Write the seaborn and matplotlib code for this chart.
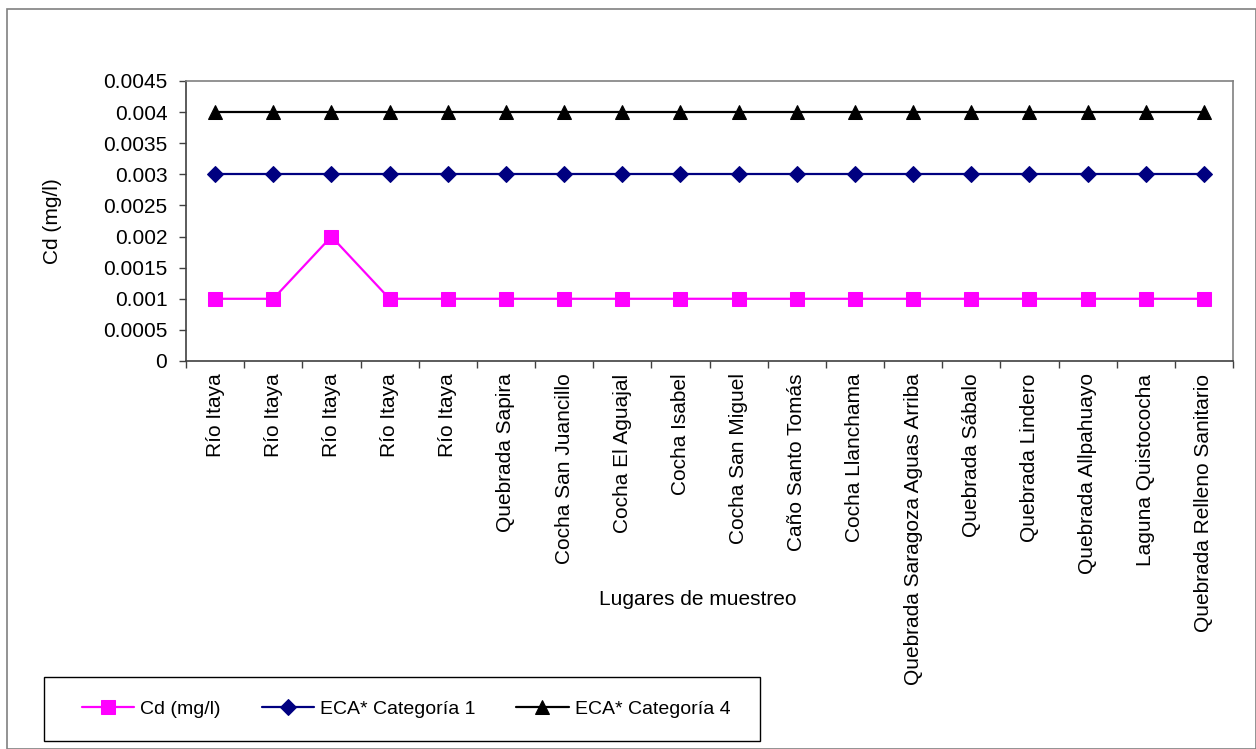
import matplotlib
matplotlib.use("Agg")
import matplotlib.pyplot as plt
import seaborn as sns
import numpy as np
from matplotlib.patches import Rectangle
from matplotlib.ticker import FixedLocator, NullFormatter

sitios = ["Río Itaya", "Río Itaya", "Río Itaya", "Río Itaya", "Río Itaya",
          "Quebrada Sapira", "Cocha San Juancillo", "Cocha El Aguajal",
          "Cocha Isabel", "Cocha San Miguel", "Caño Santo Tomás",
          "Cocha Llanchama", "Quebrada Saragoza Aguas Arriba",
          "Quebrada Sábalo", "Quebrada Lindero", "Quebrada Allpahuayo",
          "Laguna Quistococha", "Quebrada Relleno Sanitario"]
cd_mgl = [0.001, 0.001, 0.002, 0.001, 0.001, 0.001, 0.001, 0.001, 0.001,
          0.001, 0.001, 0.001, 0.001, 0.001, 0.001, 0.001, 0.001, 0.001]
eca_cat1 = [0.003] * 18
eca_cat4 = [0.004] * 18
y_ticks = [0, 0.0005, 0.001, 0.0015, 0.002, 0.0025, 0.003, 0.0035, 0.004, 0.0045]
y_labels = ["0", "0.0005", "0.001", "0.0015", "0.002", "0.0025",
            "0.003", "0.0035", "0.004", "0.0045"]

sns.set_theme(style="white")
plt.rcParams["font.family"] = ["Liberation Sans", "DejaVu Sans"]
plt.rcParams["text.color"] = "black"
plt.rcParams["axes.labelcolor"] = "black"
plt.rcParams["xtick.color"] = "black"
plt.rcParams["ytick.color"] = "black"
FS = 15

fig = plt.figure(figsize=(12.56, 7.49), dpi=100)
ax = fig.add_axes([186/1256, 1-361/749, (1233-186)/1256, (361-81)/749])

pos = np.arange(len(sitios))
series = [
    (cd_mgl, "Cd (mg/l)", "#FF00FF", "s", 10),
    (eca_cat1, "ECA* Categoría 1", "#000080", "D", 8),
    (eca_cat4, "ECA* Categoría 4", "#000000", "^", 9.5),
]
for vals, name, col, mk, ms in series:
    sns.lineplot(x=pos, y=vals, ax=ax, color=col, marker=mk, markersize=ms,
                 markeredgecolor=col, linewidth=1.6, label=name, sort=False)

ax.set_xlim(-0.5, len(sitios) - 0.5)
ax.set_ylim(0, 0.0045)
ax.yaxis.set_major_locator(FixedLocator(y_ticks))
ax.set_yticklabels(y_labels)

ax.set_xticks(pos)
ax.set_xticklabels(sitios, rotation=90, fontsize=FS)
ax.tick_params(axis="x", which="major", length=0, pad=9)
ax.xaxis.set_minor_locator(FixedLocator(np.arange(-0.5, len(sitios), 1.0)))
ax.xaxis.set_minor_formatter(NullFormatter())
ax.tick_params(axis="x", which="minor", bottom=True, length=5, width=1,
               color="#404040", direction="out")
ax.tick_params(axis="y", left=True, length=5, width=1, color="#404040",
               direction="out", labelsize=FS, pad=8.5)

for s in ["top", "right"]:
    ax.spines[s].set_color("#808080")
    ax.spines[s].set_linewidth(1.2)
for s in ["left", "bottom"]:
    ax.spines[s].set_color("#404040")
    ax.spines[s].set_linewidth(1.2)

ax.set_xlabel("Lugares de muestreo", fontsize=FS)
ax.xaxis.set_label_coords((698-186)/(1233-186), -(590-361)/(361-81))
ax.set_ylabel("Cd (mg/l)", fontsize=FS)
ax.yaxis.set_label_coords(-(186-62)/(1233-186), 0.5)

ax.get_legend().remove()
handles, labels = ax.get_legend_handles_labels()
fig.legend(handles, labels, loc="center", ncol=3, fontsize=14,
           bbox_to_anchor=(406/1256, 1-709/749), frameon=False,
           handlelength=2.7, columnspacing=2.1, handletextpad=0.3)

# legend frame and outer chart frame
fig.patches.append(Rectangle((44/1256, 1-741/749), (760-44)/1256, (741-677)/749,
                             transform=fig.transFigure, fill=False,
                             edgecolor="black", linewidth=1.0))
fig.patches.append(Rectangle((7/1256, 0.5/749), (1255.5-7)/1256, (749-9.5)/749,
                             transform=fig.transFigure, fill=False,
                             edgecolor="#808080", linewidth=1.2))

fig.savefig("out.png", dpi=100)
